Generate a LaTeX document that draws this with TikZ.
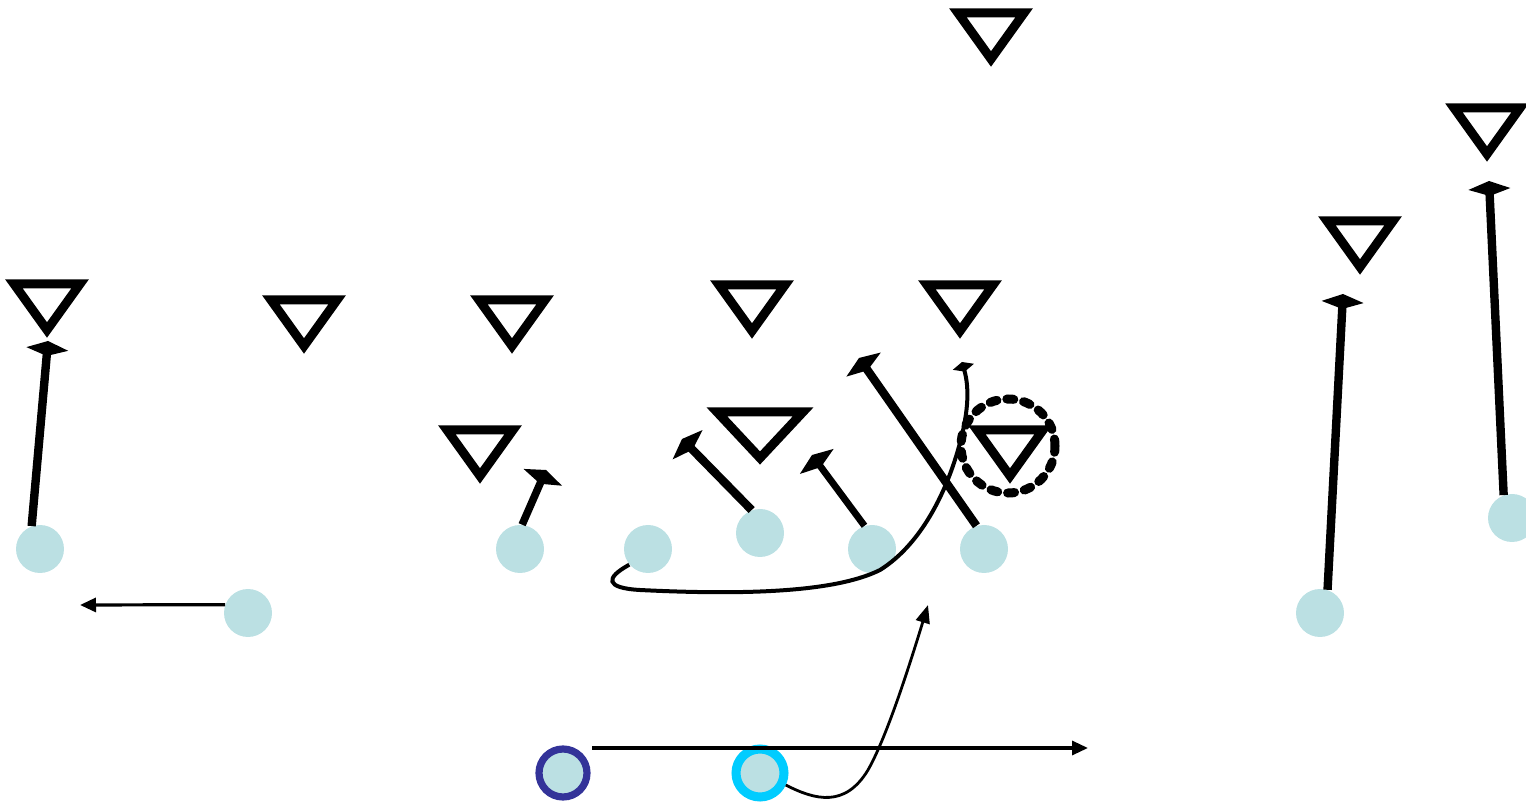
\documentclass[tikz,border=0pt]{standalone}
\usetikzlibrary{arrows.meta}

\definecolor{plblue}{HTML}{BBE0E3}
\definecolor{ringA}{HTML}{333399}
\definecolor{ringB}{HTML}{00CCFF}

\tikzset{
  pics/dfd/.style={code={\draw[dline] (-#1,0) -- (#1,0) -- (0,46) -- cycle;}},
  pics/dfd/.default=33
}

\begin{document}
\begin{tikzpicture}[x=0.5pt, y=-0.5pt,
  plyr/.style={circle, fill=plblue, minimum size=24pt, inner sep=0pt},
  dline/.style={line width=4.5pt, line join=miter},
  rte/.style={line width=4.2pt, -{Kite[length=7.5pt,width=21pt,inset=3.5pt]}},
  thn/.style={line width=1.6pt, -{Triangle[length=8pt,width=7pt]}},
  zone/.style={circle, draw, line width=4.5pt, line cap=round,
               dash pattern=on 3.5pt off 5pt, minimum size=47pt, inner sep=0pt}
]
\useasboundingbox (0,0) rectangle (1526,806);

% ---------------- offense ----------------
\node[plyr] (p1) at (40,549) {};
\node[plyr] (p2) at (248,613) {};
\node[plyr] (p3) at (520,549) {};
\node[plyr] (p4) at (648,549) {};
\node[plyr] (p5) at (760,533) {};
\node[plyr] (p6) at (872,549) {};
\node[plyr] (p7) at (984,549) {};
\node[plyr] (p8) at (1320,613) {};
\node[plyr] (p9) at (1512,518) {};
\node[plyr, draw=ringA, line width=3.6pt, minimum size=24pt] (b1) at (563,773) {};
\node[plyr, draw=ringB, line width=4.5pt, minimum size=24pt] (b2) at (760,773) {};

% ---------------- defense ----------------
\pic at (47,284) {dfd};
\pic at (304,300) {dfd};
\pic at (512,300) {dfd};
\pic at (752,285) {dfd};
\pic at (960,285) {dfd};
\pic at (991,13) {dfd};
\pic at (1487,108) {dfd};
\pic at (1360,221) {dfd};
\pic at (480,430) {dfd};
\pic at (760,412) {dfd=43};
\pic at (1010,430) {dfd};
\node[zone] (zn) at (1008,446) {};

% ---------------- routes ----------------
\coordinate (e1) at (48,341);
\coordinate (e2) at (80,605);
\coordinate (e3) at (546,470);
\coordinate (e4) at (962,362);
\coordinate (e5) at (682,439);
\coordinate (e6) at (812,455);
\coordinate (e7) at (859,358);
\coordinate (e8) at (1343,294);
\coordinate (e9) at (1489,181);
\coordinate (m1) at (592,748);
\coordinate (m2) at (1088,748);
\coordinate (e10) at (928,605);

\draw[rte] (p1.110) -- (e1);
\draw[thn] (p2.160) -- (e2);
\draw[rte, line width=3.8pt] (p3.85) -- (e3);
\draw[rte] (p5.110) -- (e5);
\draw[rte, line width=3.4pt] (p6.108) -- (e6);
\draw[rte] (p7.108) -- (e7);
\draw[rte] (p8.72) -- (e8);
\draw[rte] (p9.110) -- (e9);
\draw[line width=2pt, -{Kite[length=5pt,width=11pt,inset=2.5pt]}]
  (p4.220) .. controls (605,578) and (605,588) .. (640,590)
  .. controls (760,596) and (840,590) .. (880,570)
  .. controls (920,545) and (945,495) .. (958,450)
  .. controls (968,415) and (970,390) .. (e4);
\draw[thn] (m1) -- (m2);
\draw[line width=1.4pt, -{Triangle[length=9pt,width=7pt]}]
  (b2.-25) .. controls (815,800) and (845,808) .. (868,770)
  .. controls (885,740) and (905,680) .. (e10);
\end{tikzpicture}
\end{document}
